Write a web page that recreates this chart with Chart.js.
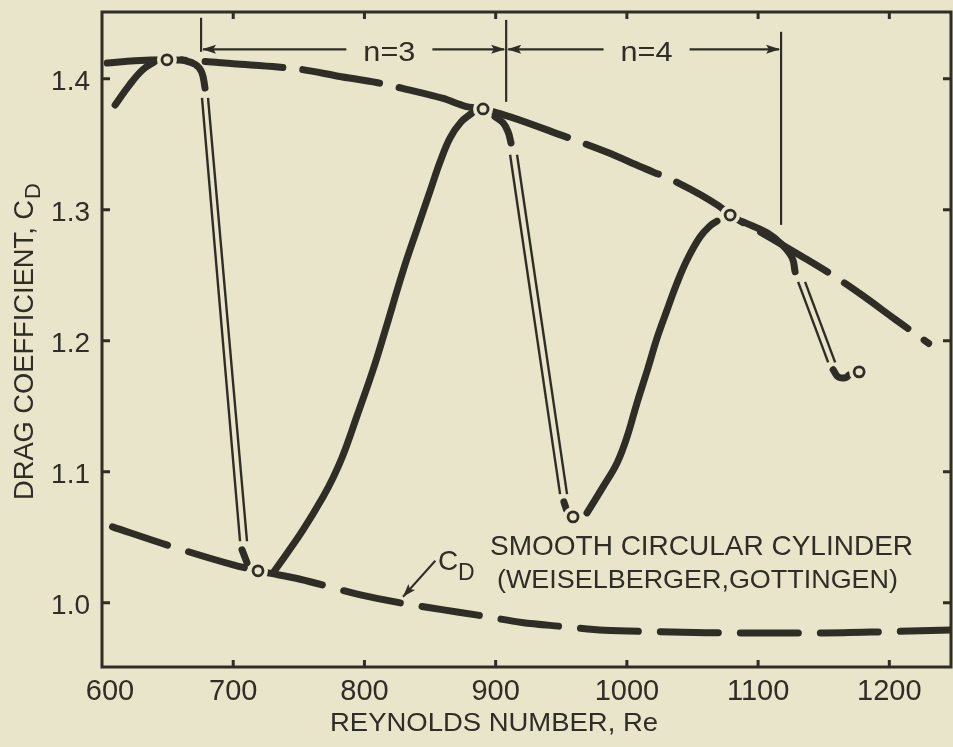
<!DOCTYPE html>
<html>
<head>
<meta charset="utf-8">
<title>Drag coefficient, smooth circular cylinder</title>
<script src="https://cdn.jsdelivr.net/npm/chart.js@4.4.1/dist/chart.umd.min.js"></script>
<style>
  html, body { margin: 0; padding: 0; background: #e9e5ca; }
  #wrap { width: 953px; height: 747px; }
</style>
</head>
<body>
<div id="wrap"><canvas id="grafico" width="953" height="747"></canvas></div>
<script>
// ===== AXES =====
const reTicks = [600, 700, 800, 900, 1000, 1100, 1200];
const cdTicks = [1.0, 1.1, 1.2, 1.3, 1.4];

// ===== ENVELOPES (dashed) =====
const upperRe = [604, 625, 650, 675, 700, 734, 753, 780, 810, 832, 860, 877, 890, 911, 950, 986, 1010, 1039, 1070, 1079, 1100, 1134, 1160, 1179, 1205, 1230];
const upperCd = [1.412, 1.4138, 1.4145, 1.4135, 1.4115, 1.409, 1.407, 1.402, 1.397, 1.392, 1.385, 1.379, 1.377, 1.371, 1.357, 1.3435, 1.333, 1.3206, 1.303, 1.296, 1.284, 1.264, 1.248, 1.235, 1.216, 1.198];

const lowerRe = [608, 650, 700, 719, 751, 797, 830, 858, 890, 920, 950, 983, 1020, 1060, 1100, 1150, 1200, 1247];
const lowerCd = [1.058, 1.044, 1.029, 1.0244, 1.018, 1.006, 0.9995, 0.995, 0.990, 0.985, 0.982, 0.979, 0.978, 0.9772, 0.977, 0.977, 0.978, 0.9792];

// ===== MEASURED CURVE (solid pieces) =====
const startRe = [610, 621, 631, 640];
const startCd = [1.380, 1.3954, 1.4069, 1.413];

const hook1Re = [661, 671, 676, 678.5];
const hook1Cd = [1.4145, 1.411, 1.405, 1.393];
const foot1Re = [706.7, 710.5];
const foot1Cd = [1.0405, 1.0305];
const rise1Re = [730.3, 741.7, 753.2, 768.4, 776.0, 783.7, 794.3, 806.5, 815.7, 829.4, 840.1, 850.0, 857.6, 865.2, 873.6, 882.0];
const rise1Cd = [1.0227, 1.0388, 1.0556, 1.0808, 1.0953, 1.1128, 1.1426, 1.1777, 1.2075, 1.2533, 1.2853, 1.3143, 1.3365, 1.3548, 1.367, 1.3739];

const hook2Re = [899.5, 905.6, 909.5, 911.7];
const hook2Cd = [1.371, 1.3664, 1.3595, 1.351];
const foot2Re = [952, 954];
const foot2Cd = [1.077, 1.071];
const rise2Re = [969.6, 981.8, 992.5, 1000.1, 1007.7, 1016.1, 1023.0, 1030.6, 1038.2, 1045.8, 1055.7, 1063.3, 1068.7];
const rise2Cd = [1.0686, 1.0885, 1.1068, 1.1266, 1.1526, 1.1793, 1.2022, 1.2235, 1.2441, 1.2617, 1.2792, 1.2876, 1.2914];

const hook3Re = [1088.6, 1106.9, 1118.3, 1125.9, 1128.2];
const hook3Cd = [1.2908, 1.2824, 1.2733, 1.2634, 1.2527];
const foot3Re = [1157.2, 1161, 1166.3, 1169.4];
const foot3Cd = [1.1779, 1.1725, 1.1718, 1.174];

// jumps, drawn as double thin lines
const jump1aRe = [676.2, 705.2];
const jump1bRe = [680.8, 710.5];
const jump1Cd = [1.3855, 1.047];
const jump2aRe = [911.0, 949.1];
const jump2bRe = [916.3, 954.4];
const jump2Cd = [1.342, 1.083];
const jump3aRe = [1130.5, 1153.4];
const jump3bRe = [1135.8, 1158.7];
const jump3Cd = [1.245, 1.1835];

// observed points (open circles)
const circleRe = [649.5, 718.9, 890.4, 959, 1078.7, 1177];
const circleCd = [1.4145, 1.0244, 1.377, 1.0656, 1.296, 1.1763];

// ===== ANNOTATIONS =====
const bracketRe = [675.5, 908, 1117.5];
const bracketTop = [1.4466, 1.445, 1.4359];
const bracketBottom = [1.4206, 1.3824, 1.2885];
const bracketCd = 1.4225;
const bracketLabels = ['n=3', 'n=4'];
const bracketLabelRe = [819, 1015];

const INK = '#2f2d26';
const PAPER = '#e9e5ca';
const FONT = '"Liberation Sans", Arial, sans-serif';

function serie(re, cd) {
    return re.map((r, i) => ({ x: r, y: cd[i] }));
}

function thick(re, cd, extra) {
    return Object.assign({
        data: serie(re, cd),
        borderColor: INK,
        borderWidth: 7,
        borderCapStyle: 'round',
        borderJoinStyle: 'round',
        pointRadius: 0,
        tension: 0.4,
        fill: false,
        order: 3
    }, extra || {});
}

function thin(re, cd) {
    return {
        data: serie(re, cd),
        borderColor: INK,
        borderWidth: 2.4,
        pointRadius: 0,
        tension: 0,
        fill: false,
        order: 3
    };
}

const datasets = [
    // rings on top, paper discs under them to open a gap in the lines
    { data: serie(circleRe, circleCd), showLine: false, pointRadius: 5, pointBorderWidth: 2.8,
      pointBorderColor: INK, pointBackgroundColor: PAPER, order: 0 },
    { data: serie(circleRe, circleCd), showLine: false, pointRadius: 10, pointBorderWidth: 0,
      pointBackgroundColor: PAPER, pointBorderColor: PAPER, order: 1 },

    thick(upperRe, upperCd, { borderDash: [78, 20], cubicInterpolationMode: 'monotone', order: 4 }),
    thick(lowerRe, lowerCd, { borderDash: [58, 22], cubicInterpolationMode: 'monotone', order: 4 }),

    thick(startRe, startCd),
    thick(hook1Re, hook1Cd),
    thick(foot1Re, foot1Cd),
    thick(rise1Re, rise1Cd),
    thick(hook2Re, hook2Cd),
    thick(foot2Re, foot2Cd),
    thick(rise2Re, rise2Cd),
    thick(hook3Re, hook3Cd),
    thick(foot3Re, foot3Cd),

    thin(jump1aRe, jump1Cd), thin(jump1bRe, jump1Cd),
    thin(jump2aRe, jump2Cd), thin(jump2bRe, jump2Cd),
    thin(jump3aRe, jump3Cd), thin(jump3bRe, jump3Cd)
];

// ===== DRAWING HELPERS =====
// text squeezed/stretched to a given width
function fitText(ctx, text, x, y, width, align) {
    const w = ctx.measureText(text).width;
    ctx.save();
    ctx.translate(x, y);
    ctx.scale(width / w, 1);
    ctx.textAlign = align || 'left';
    ctx.fillText(text, 0, 0);
    ctx.restore();
}

function arrowHead(ctx, tipX, tipY, angle, len, half) {
    ctx.save();
    ctx.translate(tipX, tipY);
    ctx.rotate(angle);
    ctx.beginPath();
    ctx.moveTo(0, 0);
    ctx.lineTo(-len, -half);
    ctx.lineTo(-len * 0.8, 0);
    ctx.lineTo(-len, half);
    ctx.closePath();
    ctx.fill();
    ctx.restore();
}

const paperPlugin = {
    id: 'paper',
    beforeDraw(chart) {
        const ctx = chart.ctx;
        ctx.save();
        ctx.fillStyle = PAPER;
        ctx.fillRect(0, 0, chart.width, chart.height);
        ctx.restore();
    }
};

const annotationPlugin = {
    id: 'annotations',
    afterDatasetsDraw(chart) {
        const { ctx, scales: { x, y } } = chart;
        ctx.save();
        ctx.strokeStyle = INK;
        ctx.fillStyle = INK;
        ctx.lineWidth = 2.2;

        // vertical markers of the n = 3 / n = 4 ranges
        bracketRe.forEach((re, i) => {
            const px = x.getPixelForValue(re);
            ctx.beginPath();
            ctx.moveTo(px, y.getPixelForValue(bracketTop[i]));
            ctx.lineTo(px, y.getPixelForValue(bracketBottom[i]));
            ctx.stroke();
        });

        // horizontal arrows with their labels
        const py = y.getPixelForValue(bracketCd);
        ctx.font = '28px ' + FONT;
        ctx.textBaseline = 'alphabetic';
        bracketLabels.forEach((label, i) => {
            const x0 = x.getPixelForValue(bracketRe[i]);
            const x1 = x.getPixelForValue(bracketRe[i + 1]);
            const cx = x.getPixelForValue(bracketLabelRe[i]);
            const half = 26;
            ctx.beginPath();
            ctx.moveTo(x0 + 2, py);
            ctx.lineTo(cx - half - 17, py);
            ctx.moveTo(cx + half + 17, py);
            ctx.lineTo(x1 - 2, py);
            ctx.stroke();
            arrowHead(ctx, x0 + 1, py, Math.PI, 14, 4.5);
            arrowHead(ctx, x1 - 1, py, 0, 14, 4.5);
            fitText(ctx, label, cx, py + 12, half * 2, 'center');
        });

        // C_D pointer
        const ax0 = x.getPixelForValue(854), ay0 = y.getPixelForValue(1.0321);
        const ax1 = x.getPixelForValue(829.4), ay1 = y.getPixelForValue(1.0046);
        ctx.lineWidth = 2;
        ctx.beginPath();
        ctx.moveTo(ax0, ay0);
        ctx.lineTo(ax1, ay1);
        ctx.stroke();
        arrowHead(ctx, ax1, ay1, Math.atan2(ay1 - ay0, ax1 - ax0), 13, 4.5);

        ctx.font = '28px ' + FONT;
        ctx.fillText('C', x.getPixelForValue(856), y.getPixelForValue(1.0252));
        ctx.font = '23px ' + FONT;
        ctx.fillText('D', x.getPixelForValue(871.3), y.getPixelForValue(1.0176));

        // caption
        ctx.font = '28px ' + FONT;
        fitText(ctx, 'SMOOTH CIRCULAR CYLINDER', x.getPixelForValue(895.7), y.getPixelForValue(1.0366), 423);
        ctx.font = '25px ' + FONT;
        fitText(ctx, '(WEISELBERGER,GOTTINGEN)', x.getPixelForValue(901), y.getPixelForValue(1.0115), 401);
        ctx.restore();
    }
};

const framePlugin = {
    id: 'frame',
    afterDraw(chart) {
        const { ctx, chartArea: a, scales: { x, y } } = chart;
        ctx.save();
        ctx.strokeStyle = INK;
        ctx.fillStyle = INK;
        ctx.lineWidth = 3;
        ctx.strokeRect(a.left, a.top, a.right - a.left, a.bottom - a.top);

        // ticks point inwards on all four sides
        ctx.beginPath();
        reTicks.forEach(v => {
            if (v === x.min) return;
            const px = x.getPixelForValue(v);
            ctx.moveTo(px, a.bottom); ctx.lineTo(px, a.bottom - 7);
            ctx.moveTo(px, a.top); ctx.lineTo(px, a.top + 7);
        });
        cdTicks.forEach(v => {
            const py = y.getPixelForValue(v);
            ctx.moveTo(a.left, py); ctx.lineTo(a.left + 8, py);
            ctx.moveTo(a.right, py); ctx.lineTo(a.right - 8, py);
        });
        ctx.stroke();

        // tick labels
        ctx.font = '29px ' + FONT;
        ctx.textAlign = 'center';
        ctx.textBaseline = 'alphabetic';
        reTicks.forEach(v => {
            ctx.fillText(String(v), x.getPixelForValue(v) + (v === x.min ? 8 : 0), a.bottom + 33);
        });
        ctx.font = '28px ' + FONT;
        ctx.textAlign = 'right';
        cdTicks.forEach(v => {
            ctx.fillText(v.toFixed(1), a.left - 12, y.getPixelForValue(v) + 11);
        });

        // axis titles
        ctx.textAlign = 'left';
        ctx.font = '25px ' + FONT;
        fitText(ctx, 'REYNOLDS NUMBER, Re', 330, a.bottom + 64, 328);

        ctx.save();
        ctx.translate(33, 500);
        ctx.rotate(-Math.PI / 2);
        ctx.font = '27px ' + FONT;
        fitText(ctx, 'DRAG COEFFICIENT, C', 0, 0, 300);
        ctx.font = '22px ' + FONT;
        ctx.fillText('D', 301, 7);
        ctx.restore();

        ctx.restore();
    }
};

new Chart(document.getElementById('grafico'), {
    type: 'line',
    data: { datasets },
    options: {
        responsive: false,
        animation: false,
        devicePixelRatio: 1,
        events: [],
        layout: { autoPadding: false, padding: { left: 102, top: 12, right: 2, bottom: 80 } },
        scales: {
            x: { type: 'linear', min: 600, max: 1247, display: false },
            y: { type: 'linear', min: 0.951, max: 1.451, display: false }
        },
        plugins: {
            legend: { display: false },
            tooltip: { enabled: false }
        }
    },
    plugins: [paperPlugin, annotationPlugin, framePlugin]
});
</script>
</body>
</html>
